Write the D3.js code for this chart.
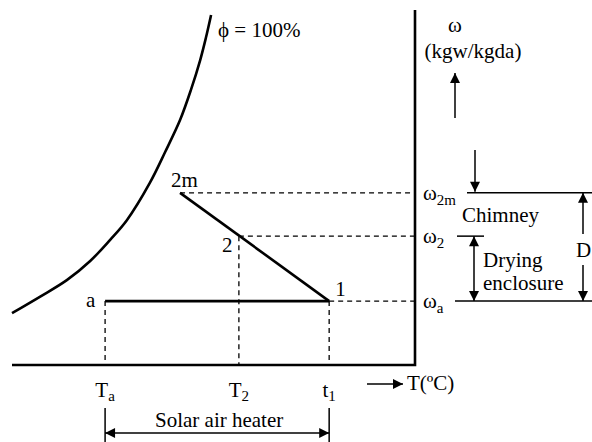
<!DOCTYPE html>
<html>
<head>
<meta charset="utf-8">
<script src="https://cdn.jsdelivr.net/npm/d3@7"></script>
<style>
  body { margin: 0; background: #fff; }
</style>
</head>
<body>
<svg id="chart" width="592" height="442"></svg>
<script>
// saturation curve (phi = 100%), [T, omega] in arbitrary chart units
const saturation = [
  [0, 14.6], [6.9, 19.2], [13.6, 23.9], [19.4, 29.3], [24.3, 35.2],
  [28.5, 40.8], [34.2, 51.3], [38.0, 60.0], [41.7, 69.0], [44.4, 77.5],
  [46.7, 85.9], [48.1, 92.1], [49.4, 98.6]
];

// state points
const points = [
  { id: "a", T: 23.1, w: 18.0 },
  { id: "1", T: 78.7, w: 18.0 },
  { id: "2", T: 56.3, w: 36.3 },
  { id: "2m", T: 41.7, w: 48.5 }
];

const tempTicks = [
  { label: "T", sub: "a", T: 23.1 },
  { label: "T", sub: "2", T: 56.3 },
  { label: "t", sub: "1", T: 78.7 }
];

const omegaTicks = [
  { sub: "2m", w: 48.5 },
  { sub: "2", w: 36.3 },
  { sub: "a", w: 18.0 }
];

const svg = d3.select("#chart");
const x = d3.scaleLinear().domain([0, 100]).range([12, 415]);
const y = d3.scaleLinear().domain([0, 100]).range([365, 10]);

const byId = new Map(points.map(p => [p.id, p]));
const P = id => byId.get(id);

const label = (sel) => sel
  .attr("font-family", "Liberation Serif")
  .attr("font-size", 21)
  .attr("fill", "#000");

// arrow heads
const defs = svg.append("defs");
defs.append("marker")
  .attr("id", "head")
  .attr("viewBox", "0 -5 10 10")
  .attr("refX", 10)
  .attr("markerWidth", 11)
  .attr("markerHeight", 10)
  .attr("markerUnits", "userSpaceOnUse")
  .attr("orient", "auto-start-reverse")
  .append("path")
  .attr("d", "M0,-5L10,0L0,5Z")
  .attr("fill", "#000");

// axes frame
svg.append("path")
  .attr("d", `M${x(0)},${y(0)}H${x(100)}V${y(100)}`)
  .attr("fill", "none")
  .attr("stroke", "#000")
  .attr("stroke-width", 2.6);

// saturation curve
svg.append("path")
  .datum(saturation)
  .attr("d", d3.line().x(d => x(d[0])).y(d => y(d[1])).curve(d3.curveCatmullRom))
  .attr("fill", "none")
  .attr("stroke", "#000")
  .attr("stroke-width", 2.6);

svg.append("text")
  .call(label)
  .attr("x", 218).attr("y", 37)
  .text("ϕ = 100%");

// dashed guides
const dashed = svg.append("g")
  .attr("stroke", "#000")
  .attr("stroke-width", 1.3)
  .attr("stroke-dasharray", "5,4")
  .attr("fill", "none");

["2m", "2", "1"].forEach(id => {
  const p = P(id);
  dashed.append("line")
    .attr("x1", x(p.T)).attr("y1", y(p.w))
    .attr("x2", x(100)).attr("y2", y(p.w));
});
["a", "2", "1"].forEach(id => {
  const p = P(id);
  dashed.append("line")
    .attr("x1", x(p.T)).attr("y1", y(p.w))
    .attr("x2", x(p.T)).attr("y2", y(0));
});

// process lines: a -> 1 (heating), 1 -> 2 -> 2m (drying + chimney)
const process = [["a", "1"], ["1", "2m"]];
svg.append("g")
  .selectAll("line")
  .data(process)
  .join("line")
  .attr("x1", d => x(P(d[0]).T)).attr("y1", d => y(P(d[0]).w))
  .attr("x2", d => x(P(d[1]).T)).attr("y2", d => y(P(d[1]).w))
  .attr("stroke", "#000")
  .attr("stroke-width", 2.6);

// point labels
const pointLabels = [
  { id: "a", dx: -19, dy: 6 },
  { id: "1", dx: 6, dy: -5 },
  { id: "2", dx: -17, dy: 16 },
  { id: "2m", dx: -9, dy: -6 }
];
svg.append("g")
  .selectAll("text")
  .data(pointLabels)
  .join("text")
  .call(label)
  .attr("x", d => x(P(d.id).T) + d.dx)
  .attr("y", d => y(P(d.id).w) + d.dy)
  .text(d => d.id);

// temperature labels
const tl = svg.append("g")
  .selectAll("text")
  .data(tempTicks)
  .join("text")
  .call(label)
  .attr("x", d => x(d.T))
  .attr("y", 397)
  .attr("text-anchor", "middle");
tl.append("tspan").text(d => d.label);
tl.append("tspan").attr("dy", 4).attr("font-size", 15).text(d => d.sub);

// omega labels
const ol = svg.append("g")
  .selectAll("text")
  .data(omegaTicks)
  .join("text")
  .call(label)
  .attr("x", 423)
  .attr("y", d => y(d.w) + 7);
ol.append("tspan").text("ω");
ol.append("tspan").attr("dy", 5).attr("font-size", 15).text(d => d.sub);

// axis titles
svg.append("text")
  .call(label)
  .attr("x", 455).attr("y", 32)
  .attr("text-anchor", "middle")
  .text("ω");
svg.append("text")
  .call(label)
  .attr("x", 473).attr("y", 58)
  .attr("text-anchor", "middle")
  .text("(kgw/kgda)");

const arrow = (x1, y1, x2, y2, both) => {
  const l = svg.append("line")
    .attr("x1", x1).attr("y1", y1).attr("x2", x2).attr("y2", y2)
    .attr("stroke", "#000")
    .attr("stroke-width", 1.5)
    .attr("marker-end", "url(#head)");
  if (both) l.attr("marker-start", "url(#head)");
  return l;
};

arrow(455, 118, 455, 73);
arrow(475, 150, 475, y(48.5) - 1);
arrow(367, 384, 403, 384);

svg.append("text")
  .call(label)
  .attr("x", 407).attr("y", 390)
  .text("T(ºC)");

// right-hand brackets
const rules = svg.append("g").attr("stroke", "#000").attr("stroke-width", 1.5);
rules.append("line").attr("x1", 467).attr("x2", 592).attr("y1", y(48.5)).attr("y2", y(48.5));
rules.append("line").attr("x1", 457).attr("x2", 484).attr("y1", y(36.3)).attr("y2", y(36.3));
rules.append("line").attr("x1", 455).attr("x2", 592).attr("y1", y(18.0)).attr("y2", y(18.0));

arrow(474, y(36.3), 474, y(18.0), true);
arrow(583, 234, 583, y(48.5));
arrow(583, 265, 583, y(18.0));

svg.append("text")
  .call(label)
  .attr("x", 462).attr("y", 222)
  .text("Chimney");
svg.append("text")
  .call(label)
  .attr("x", 483).attr("y", 267)
  .text("Drying");
svg.append("text")
  .call(label)
  .attr("x", 483).attr("y", 290)
  .text("enclosure");
svg.append("text")
  .call(label)
  .attr("x", 576).attr("y", 257)
  .text("D");

// solar air heater span
const xa = x(P("a").T), x1 = x(P("1").T);
rules.append("line").attr("x1", xa).attr("x2", xa).attr("y1", 408).attr("y2", 442);
rules.append("line").attr("x1", x1).attr("x2", x1).attr("y1", 408).attr("y2", 442);
arrow(xa, 433, x1, 433, true);
svg.append("text")
  .call(label)
  .attr("x", (xa + x1) / 2 + 2).attr("y", 427)
  .attr("text-anchor", "middle")
  .text("Solar air heater");
</script>
</body>
</html>
